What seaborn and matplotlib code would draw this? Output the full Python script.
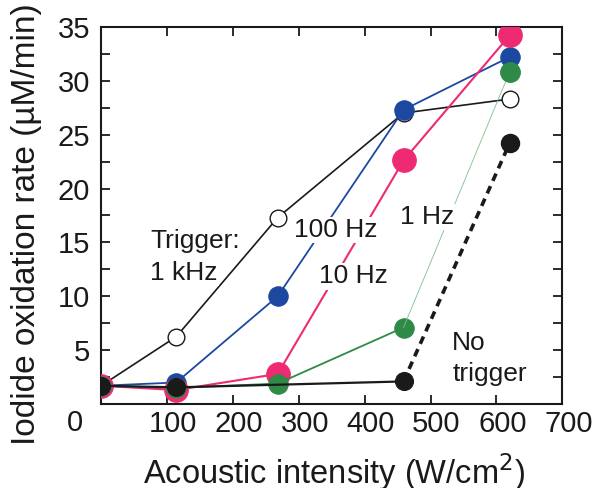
import numpy as np
import pandas as pd
import matplotlib
matplotlib.use('Agg')
import matplotlib.pyplot as plt
import matplotlib.transforms as mtrans
import seaborn as sns
from matplotlib.ticker import MultipleLocator

# acoustic intensity (W/cm2)
intensity = [0, 114, 268, 459, 620]

# iodide oxidation rate (uM/min)
rate_1khz = [1.7, 6.25, 17.3, 27.0, 28.3]
rate_100hz = [1.7, 2.0, 10.0, 27.3, 32.2]
rate_10hz = [1.7, 1.3, 2.8, 22.6, 34.2]
rate_1hz = [1.7, 1.5, 1.9, 7.1, 30.8]
notrig_x = [0, 114, 459, 620]
rate_notrig = [1.7, 1.55, 2.1, 24.2]

sns.set_style('ticks')
plt.rcParams['font.family'] = ['Liberation Sans', 'DejaVu Sans']

fig = plt.figure(figsize=(5.95, 4.88), dpi=100)
ax = fig.add_axes([0.170, 0.172, 0.775, 0.773])

blue = '#1d48a0'
pink = '#ee2a73'
green = '#2f8a47'
black = '#1a1a1a'

# Trigger 1 kHz, open circles
sns.lineplot(x=intensity, y=rate_1khz, ax=ax, color=black, lw=1.2,
             marker='o', markersize=12, markerfacecolor='white',
             markeredgecolor=black, markeredgewidth=1.0, zorder=2)
# 100 Hz
sns.lineplot(x=intensity, y=rate_100hz, ax=ax, color=blue, lw=1.3,
             marker='o', markersize=14, markeredgecolor=blue, zorder=3)
# 10 Hz
sns.lineplot(x=intensity, y=rate_10hz, ax=ax, color=pink, lw=1.5,
             marker='o', markersize=17, markeredgecolor=pink, zorder=4)
# 1 Hz: last segment drawn thin
sns.lineplot(x=intensity[:4], y=rate_1hz[:4], ax=ax, color=green, lw=1.3,
             marker='o', markersize=14, markeredgecolor=green, zorder=5)
ax.plot(intensity[3:], rate_1hz[3:], color='#7fbf8f', lw=0.6, zorder=5)
ax.plot(intensity[4:], rate_1hz[4:], 'o', color=green, markersize=14, zorder=5)
# no trigger: dashed last segment
sns.lineplot(x=notrig_x[:3], y=rate_notrig[:3], ax=ax, color=black, lw=1.6,
             marker='o', markersize=13, markeredgecolor=black, zorder=6)
ax.plot(notrig_x[2:], rate_notrig[2:], color=black, lw=2.6, ls=(0, (2.2, 1.6)), zorder=6)
ax.plot(notrig_x[3:], rate_notrig[3:], 'o', color=black, markersize=13, zorder=6)

box = dict(facecolor='white', edgecolor='none', pad=1)
fs = 19
ax.text(74, 14.5, 'Trigger:', fontsize=fs, va='baseline', bbox=box, zorder=7, color=black)
ax.text(74, 11.5, '1 kHz', fontsize=fs, va='baseline', bbox=box, zorder=7, color=black)
ax.text(292, 15.5, '100 Hz', fontsize=fs, va='baseline', bbox=box, zorder=7, color=black)
ax.text(331, 11.2, '10 Hz', fontsize=fs, va='baseline', bbox=box, zorder=7, color=black)
ax.text(453, 16.7, '1 Hz', fontsize=fs, va='baseline', bbox=box, zorder=7, color=black)
ax.text(533, 5.0, 'No', fontsize=fs, va='baseline', zorder=7, color=black)
ax.text(533, 2.1, 'trigger', fontsize=fs, va='baseline', zorder=7, color=black)

ax.set_xlim(0, 700)
ax.set_ylim(0, 35)
ax.set_xticks([100, 200, 300, 400, 500, 600, 700])
ax.set_yticks(np.arange(5, 36, 5))
ax.yaxis.set_minor_locator(MultipleLocator(2.5))
ax.tick_params(which='both', direction='in', top=True, right=True,
               length=6.5, width=1.3, colors=black)
ax.tick_params(axis='x', labelsize=21, pad=4)
ax.tick_params(axis='y', labelsize=21, pad=8)
# x tick labels sit a little right of their ticks in the original
shift = mtrans.ScaledTranslation(0.06, 0, fig.dpi_scale_trans)
for lab in ax.get_xticklabels():
    lab.set_transform(lab.get_transform() + shift)
ax.text(-0.039, -0.012, '0', transform=ax.transAxes, fontsize=21,
        ha='right', va='top', color=black)
for s in ax.spines.values():
    s.set_linewidth(1.5)
    s.set_color(black)

ax.set_xlabel('Acoustic intensity (W/cm$^2$)', fontsize=23.5, color=black)
ax.set_ylabel('Iodide oxidation rate (\u00b5M/min)', fontsize=24, color=black)
ax.xaxis.set_label_coords(0.504, -0.125)
ax.yaxis.set_label_coords(-0.128, 0.477)

fig.savefig('out.png', dpi=100)
